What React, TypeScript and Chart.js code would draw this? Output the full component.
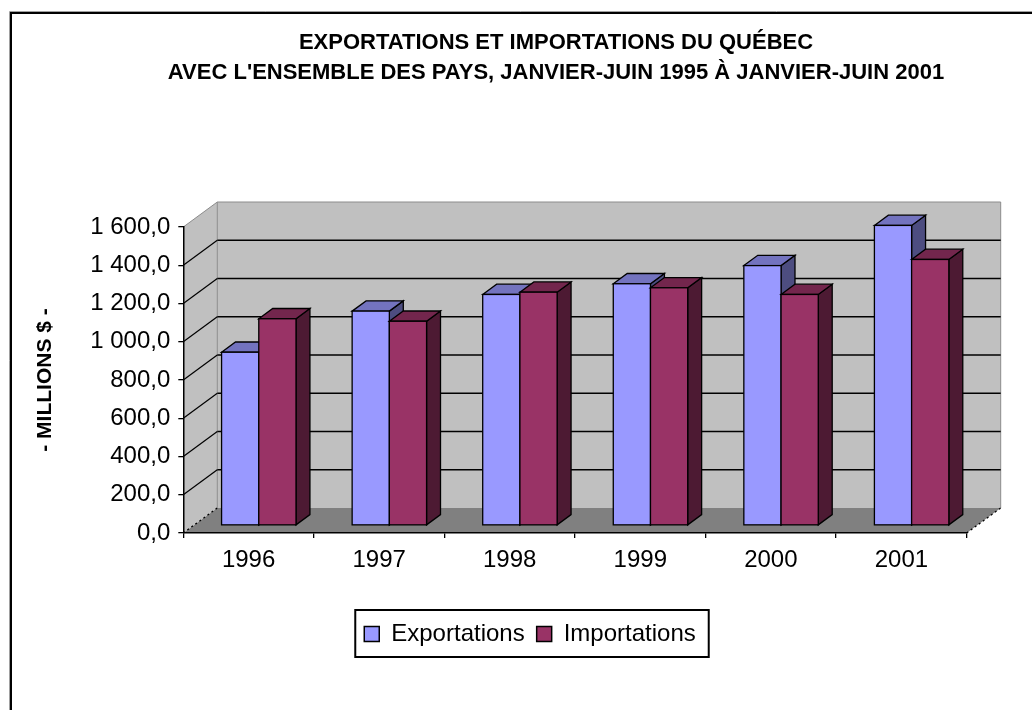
import React, { useEffect, useRef } from "react";
import { Chart, registerables } from "chart.js";

Chart.register(...registerables);

// ---------- data ----------
const TITLE_LINES = [
  "EXPORTATIONS ET IMPORTATIONS DU QUÉBEC",
  "AVEC L'ENSEMBLE DES PAYS, JANVIER-JUIN 1995 À JANVIER-JUIN 2001",
];
const Y_AXIS_TITLE = "- MILLIONS $ -";
const YEARS = ["1996", "1997", "1998", "1999", "2000", "2001"];
const SERIES_NAMES = ["Exportations", "Importations"];
const EXPORTATIONS = [906, 1121, 1208, 1264, 1359, 1569];
const IMPORTATIONS = [1081, 1068, 1220, 1243, 1208, 1391];
const Y_TICK_MIN = 0;
const Y_TICK_MAX = 1600;
const Y_TICK_STEP = 200;

// ---------- styles ----------
const FONT = '"Liberation Sans", Arial, Helvetica, sans-serif';
const FACE_COLORS = [
  { front: "#9999FF", top: "#7373BF", side: "#4D4D80" },
  { front: "#993366", top: "#73264D", side: "#4D1A33" },
];
const DEPTH_X = 34;
const DEPTH_Y = -25;
const BAR_DEPTH_START = 0.3;
const BAR_DEPTH_END = 0.71;
const TITLE_CENTER_X = 556;
const LEGEND_CENTER_X = 530;

function formatValue(v: number): string {
  const [intPart, dec] = v.toFixed(1).split(".");
  return intPart.replace(/\B(?=(\d{3})+(?!\d))/g, " ") + "," + dec;
}

const pseudo3D = {
  id: "pseudo3D",
  afterLayout(chart: any) {
    const t = chart.titleBlock;
    if (t) {
      const half = (t.right - t.left) / 2;
      t.left = TITLE_CENTER_X - half;
      t.right = TITLE_CENTER_X + half;
    }
    const lg = chart.legend;
    if (lg) {
      const half = (lg.right - lg.left) / 2;
      lg.left = LEGEND_CENTER_X - half;
      lg.right = LEGEND_CENTER_X + half;
    }
  },
  beforeDraw(chart: any) {
    const { ctx, chartArea: a, scales } = chart;
    const ys = scales.y;
    ctx.save();
    ctx.fillStyle = "#FFFFFF";
    ctx.fillRect(0, 0, chart.width, chart.height);

    // outer frame
    ctx.strokeStyle = "#A0A0A0";
    ctx.lineWidth = 1;
    ctx.beginPath();
    ctx.moveTo(9.5, chart.height);
    ctx.lineTo(9.5, 11.5);
    ctx.lineTo(chart.width, 11.5);
    ctx.stroke();
    ctx.strokeStyle = "#000000";
    ctx.lineWidth = 2;
    ctx.beginPath();
    ctx.moveTo(11, chart.height);
    ctx.lineTo(11, 13);
    ctx.lineTo(chart.width, 13);
    ctx.stroke();

    const xL = a.left;
    const xR = a.right;
    const y0 = ys.getPixelForValue(Y_TICK_MIN);
    const yT = ys.getPixelForValue(Y_TICK_MAX);
    const dx = DEPTH_X;
    const dy = DEPTH_Y;

    // back wall
    ctx.fillStyle = "#C0C0C0";
    ctx.fillRect(xL + dx, yT + dy, xR - xL, y0 - yT);
    // side wall
    ctx.beginPath();
    ctx.moveTo(xL, yT);
    ctx.lineTo(xL + dx, yT + dy);
    ctx.lineTo(xL + dx, y0 + dy);
    ctx.lineTo(xL, y0);
    ctx.closePath();
    ctx.fill();
    // floor
    ctx.fillStyle = "#808080";
    ctx.beginPath();
    ctx.moveTo(xL, y0);
    ctx.lineTo(xL + dx, y0 + dy);
    ctx.lineTo(xR + dx, y0 + dy);
    ctx.lineTo(xR, y0);
    ctx.closePath();
    ctx.fill();

    // wall outlines
    ctx.strokeStyle = "#8C8C8C";
    ctx.lineWidth = 1;
    ctx.beginPath();
    ctx.moveTo(xL, yT);
    ctx.lineTo(xL + dx, yT + dy);
    ctx.lineTo(xR + dx, yT + dy);
    ctx.lineTo(xR + dx, y0 + dy);
    ctx.moveTo(xL + dx, yT + dy);
    ctx.lineTo(xL + dx, y0 + dy);
    ctx.stroke();

    // gridlines on walls
    ctx.strokeStyle = "#000000";
    for (const tick of ys.ticks) {
      const v = tick.value;
      if (v <= Y_TICK_MIN || v >= Y_TICK_MAX) continue;
      const py = ys.getPixelForValue(v);
      ctx.lineWidth = 1.6;
      ctx.beginPath();
      ctx.moveTo(xL + dx, py + dy);
      ctx.lineTo(xR + dx, py + dy);
      ctx.stroke();
      ctx.lineWidth = 1.2;
      ctx.beginPath();
      ctx.moveTo(xL, py);
      ctx.lineTo(xL + dx, py + dy);
      ctx.stroke();
    }
    // floor side edges (dotted)
    ctx.setLineDash([2, 3]);
    ctx.lineWidth = 1.3;
    ctx.beginPath();
    ctx.moveTo(xL, y0);
    ctx.lineTo(xL + dx, y0 + dy);
    ctx.moveTo(xR, y0);
    ctx.lineTo(xR + dx, y0 + dy);
    ctx.stroke();
    ctx.restore();
  },
  beforeDatasetDraw() {
    return false;
  },
  afterDatasetsDraw(chart: any) {
    const ctx = chart.ctx;
    const ox = DEPTH_X * BAR_DEPTH_START;
    const oy = DEPTH_Y * BAR_DEPTH_START;
    const ddx = DEPTH_X * (BAR_DEPTH_END - BAR_DEPTH_START);
    const ddy = DEPTH_Y * (BAR_DEPTH_END - BAR_DEPTH_START);
    const nDs = chart.data.datasets.length;
    const nCat = chart.data.labels.length;
    ctx.save();
    ctx.strokeStyle = "#000000";
    ctx.lineWidth = 1.3;
    ctx.lineJoin = "miter";
    for (let i = 0; i < nCat; i++) {
      for (let d = 0; d < nDs; d++) {
        const meta = chart.getDatasetMeta(d);
        const el = meta.data[i];
        if (!el) continue;
        const p = el.getProps(["x", "y", "base", "width"], true);
        const l = p.x - p.width / 2 + ox;
        const r = p.x + p.width / 2 + ox;
        const t = Math.min(p.y, p.base) + oy;
        const b = Math.max(p.y, p.base) + oy;
        const c = FACE_COLORS[d];
        // side face
        ctx.fillStyle = c.side;
        ctx.beginPath();
        ctx.moveTo(r, t);
        ctx.lineTo(r + ddx, t + ddy);
        ctx.lineTo(r + ddx, b + ddy);
        ctx.lineTo(r, b);
        ctx.closePath();
        ctx.fill();
        ctx.stroke();
        // top face
        ctx.fillStyle = c.top;
        ctx.beginPath();
        ctx.moveTo(l, t);
        ctx.lineTo(l + ddx, t + ddy);
        ctx.lineTo(r + ddx, t + ddy);
        ctx.lineTo(r, t);
        ctx.closePath();
        ctx.fill();
        ctx.stroke();
        // front face
        ctx.fillStyle = c.front;
        ctx.fillRect(l, t, r - l, b - t);
        ctx.strokeRect(l, t, r - l, b - t);
      }
    }
    ctx.restore();
  },
  afterDraw(chart: any) {
    const lg = chart.legend;
    const boxes = lg && lg.legendHitBoxes;
    if (!boxes || !boxes.length) return;
    const ctx = chart.ctx;
    const first = boxes[0];
    const last = boxes[boxes.length - 1];
    const left = first.left - 9;
    const right = last.left + last.width + 13;
    const top = lg.top;
    const bottom = lg.top + 47;
    ctx.save();
    ctx.strokeStyle = "#000000";
    ctx.lineWidth = 2;
    ctx.strokeRect(left, top, right - left, bottom - top);
    ctx.restore();
  },
};

export default function App() {
  const ref = useRef<HTMLCanvasElement>(null);

  useEffect(() => {
    const canvas = ref.current;
    if (!canvas) return;
    const chart = new Chart(canvas, {
      type: "bar",
      data: {
        labels: YEARS,
        datasets: [
          {
            label: SERIES_NAMES[0],
            data: EXPORTATIONS,
            backgroundColor: FACE_COLORS[0].front,
            borderColor: "#000000",
            borderWidth: 1.5,
          },
          {
            label: SERIES_NAMES[1],
            data: IMPORTATIONS,
            backgroundColor: FACE_COLORS[1].front,
            borderColor: "#000000",
            borderWidth: 1.5,
          },
        ],
      },
      options: {
        animation: false,
        responsive: true,
        maintainAspectRatio: false,
        devicePixelRatio: 1,
        layout: { padding: { top: 0, left: 20, right: 65.3, bottom: 54 } },
        datasets: { bar: { categoryPercentage: 0.57, barPercentage: 1 } },
        plugins: {
          title: {
            display: true,
            text: TITLE_LINES,
            color: "#000000",
            font: { family: FONT, size: 22, weight: "bold", lineHeight: "30px" },
            padding: { top: 28, bottom: 139 },
          },
          legend: {
            display: true,
            position: "bottom",
            labels: {
              boxWidth: 15,
              boxHeight: 15,
              padding: 12,
              color: "#000000",
              font: { family: FONT, size: 24 },
            },
          },
          tooltip: { enabled: false },
        },
        scales: {
          x: {
            offset: true,
            grid: {
              display: true,
              offset: true,
              drawOnChartArea: false,
              drawTicks: true,
              tickLength: 5,
              color: "#000000",
              lineWidth: 1.3,
            },
            border: { display: true, color: "#000000", width: 1.5 },
            ticks: {
              color: "#000000",
              padding: 8,
              autoSkip: false,
              maxRotation: 0,
              font: { family: FONT, size: 24 },
            },
            afterFit: (scale: any) => {
              scale.height = 77;
            },
          },
          y: {
            min: Y_TICK_MIN,
            max: Y_TICK_MAX,
            grid: {
              display: true,
              drawOnChartArea: false,
              drawTicks: true,
              tickLength: 5,
              color: "#000000",
              lineWidth: 1.3,
            },
            border: { display: true, color: "#000000", width: 1.5 },
            ticks: {
              stepSize: Y_TICK_STEP,
              color: "#000000",
              padding: 8,
              font: { family: FONT, size: 24 },
              callback: (v: any) => formatValue(Number(v)),
            },
            title: {
              display: true,
              text: Y_AXIS_TITLE,
              color: "#000000",
              font: { family: FONT, size: 21, weight: "bold" },
              padding: { top: 13, bottom: 0 },
            },
            afterFit: (scale: any) => {
              scale.width = 163.3;
            },
          },
        },
      },
      plugins: [pseudo3D],
    });
    return () => chart.destroy();
  }, []);

  return (
    <div style={{ position: "absolute", left: 0, top: 0, width: 1032, height: 710 }}>
      <canvas ref={ref} />
    </div>
  );
}
